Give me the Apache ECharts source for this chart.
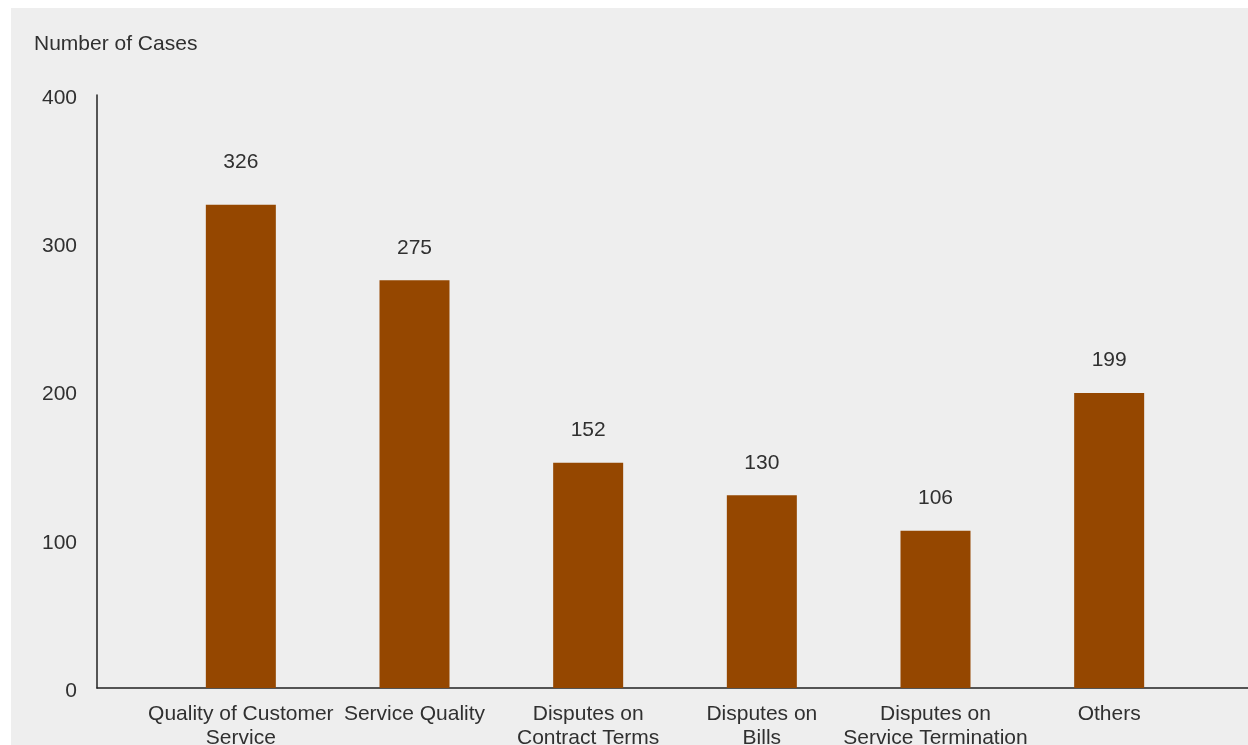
<!DOCTYPE html>
<html>
<head>
<meta charset="utf-8">
<script src="https://cdn.jsdelivr.net/npm/echarts@6/dist/echarts.min.js"></script>
<style>
    html, body { margin: 0; padding: 0; background: #fff; }
    #chart-box {
        position: absolute;
        left: 11px;
        top: 8px;
        width: 1237px;
        height: 737px;
        background: #eeeeee;
    }
</style>
</head>
<body>
<div id="chart-box"></div>
<script>
// categories and values
var categories = [
    'Quality of Customer\nService',
    'Service Quality',
    'Disputes on\nContract Terms',
    'Disputes on\nBills',
    'Disputes on\nService Termination',
    'Others'
];
var cases = [326, 275, 152, 130, 106, 199];
var yTicks = [0, 100, 200, 300, 400];

var fontFamily = '"Liberation Sans", Arial, sans-serif';
var textColor = '#303030';
var fontSize = 21;

// first value label sits a bit higher in the original
var barData = cases.map(function (v, i) {
    var item = { value: v };
    if (i === 0) {
        item.label = { distance: 32 };
    }
    return item;
});

var option = {
    animation: false,
    title: {
        text: 'Number of Cases',
        left: 18,
        top: 21,
        textStyle: {
            color: textColor,
            fontSize: fontSize,
            fontWeight: 'normal',
            fontFamily: fontFamily
        }
    },
    grid: [{
        // bars
        left: 143,
        right: 52,
        top: 87,
        bottom: 57,
        outerBoundsMode: 'none'
    }, {
        // axis lines only
        left: 86,
        right: 0,
        top: 87,
        bottom: 57,
        outerBoundsMode: 'none'
    }],
    xAxis: [{
        type: 'category',
        gridIndex: 0,
        data: categories,
        axisLine: { show: false },
        axisTick: { show: false },
        axisLabel: {
            color: textColor,
            fontSize: fontSize,
            fontFamily: fontFamily,
            lineHeight: 24,
            margin: 14,
            interval: 0
        }
    }, {
        type: 'value',
        gridIndex: 1,
        axisLine: { show: true, onZero: false, lineStyle: { color: '#222', width: 1.5 } },
        axisTick: { show: false },
        axisLabel: { show: false },
        splitLine: { show: false }
    }],
    yAxis: [{
        type: 'value',
        gridIndex: 0,
        min: yTicks[0],
        max: yTicks[yTicks.length - 1],
        show: false
    }, {
        type: 'value',
        gridIndex: 1,
        min: yTicks[0],
        max: yTicks[yTicks.length - 1],
        interval: 100,
        axisLine: { show: true, lineStyle: { color: '#222', width: 1.5 } },
        axisTick: { show: false },
        splitLine: { show: false },
        axisLabel: {
            margin: 20,
            formatter: '{t|{value}}',
            rich: {
                t: {
                    color: textColor,
                    fontSize: fontSize,
                    fontFamily: fontFamily,
                    padding: [6, 0, 0, 0]
                }
            }
        }
    }],
    series: [{
        type: 'bar',
        xAxisIndex: 0,
        yAxisIndex: 0,
        data: barData,
        barWidth: 70,
        itemStyle: { color: '#954700' },
        label: {
            show: true,
            position: 'top',
            distance: 22,
            color: textColor,
            fontSize: fontSize,
            fontFamily: fontFamily
        }
    }]
};

var myChart = echarts.init(document.getElementById('chart-box'));
myChart.setOption(option);
</script>
</body>
</html>
